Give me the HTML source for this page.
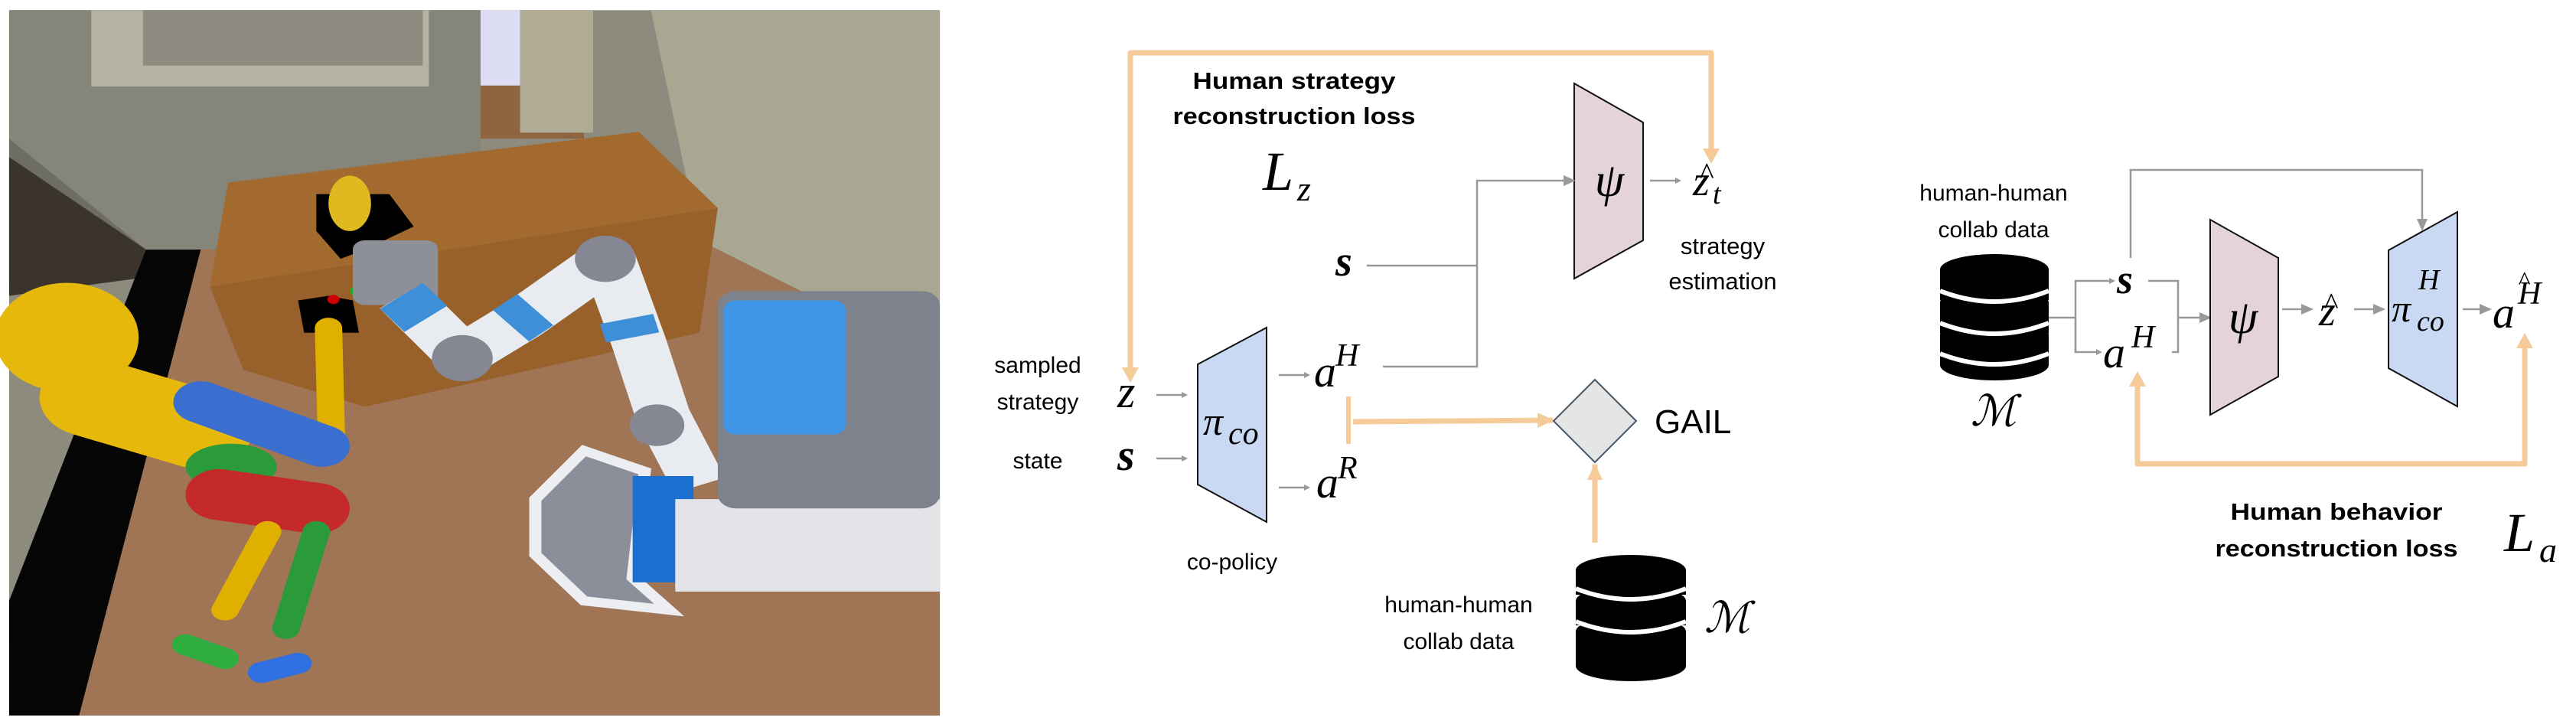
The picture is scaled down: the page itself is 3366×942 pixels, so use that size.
<!DOCTYPE html>
<html><head><meta charset="utf-8"><style>
html,body{margin:0;padding:0;background:#fff;}
svg{display:block;}
.t{font-family:"Liberation Sans",sans-serif;fill:#000;}
.b{font-family:"Liberation Sans",sans-serif;font-weight:bold;fill:#000;}
.m{font-family:"Liberation Serif",serif;font-style:italic;fill:#000;}
</style></head><body>
<svg width="3366" height="942" viewBox="0 0 3366 942" xmlns="http://www.w3.org/2000/svg">
<defs>
<marker id="ga" markerWidth="8" markerHeight="8" refX="6" refY="4" orient="auto" markerUnits="userSpaceOnUse" viewBox="0 0 8 8"><path d="M0,0 L8,4 L0,8 z" fill="#999"/></marker>
<marker id="gA" markerWidth="16" markerHeight="14" refX="14" refY="7" orient="auto" markerUnits="userSpaceOnUse"><path d="M0,0 L16,7 L0,14 z" fill="#999"/></marker>
<marker id="oa" markerWidth="22" markerHeight="20" refX="20" refY="10" orient="auto" markerUnits="userSpaceOnUse"><path d="M0,0 L22,10 L0,20 z" fill="#f5cb9a"/></marker>
</defs>
<!-- PHOTO -->
<svg x="0" y="0" width="1240" height="942" viewBox="0 0 1560 1560" preserveAspectRatio="none">
<rect x="15" y="22" width="1530" height="1526" fill="#8c8b7e"/>
<polygon points="15,22 790,22 790,520 330,540 240,540 15,300" fill="#85857a"/>
<polygon points="15,300 240,540 15,600" fill="#6e6d64"/>
<polygon points="15,340 240,540 240,600 15,640" fill="#3a342c"/>
<rect x="150" y="22" width="555" height="165" fill="#b4b2a2"/>
<rect x="235" y="22" width="460" height="120" fill="#8e8c80"/>
<rect x="790" y="22" width="65" height="165" fill="#dcdcf2"/>
<polygon points="790,185 960,185 960,300 790,300" fill="#8f6440"/>
<rect x="855" y="22" width="120" height="265" fill="#b0ab95"/>
<polygon points="1070,22 1545,22 1545,780 1150,520" fill="#a9a792"/>
<polygon points="330,540 1150,520 1545,780 1545,1548 130,1548" fill="#a07555"/>
<polygon points="240,540 330,540 130,1548 15,1548 15,1300" fill="#050505"/>
<polygon points="375,395 1050,285 1180,450 345,620" fill="#a26a2e"/>
<polygon points="345,620 1180,450 1150,720 600,880 400,800" fill="#98602a"/>
<polygon points="520,420 640,420 680,490 600,540 560,560 520,500" fill="#000"/>
<ellipse cx="575" cy="440" rx="35" ry="60" fill="#e0b820"/>
<polygon points="490,650 540,640 580,650 590,720 500,720" fill="#000"/>
<circle cx="548" cy="648" r="10" fill="#c00"/><circle cx="585" cy="630" r="10" fill="#2a2"/>
<line x1="540" y1="710" x2="545" y2="960" stroke="#e0b000" stroke-width="45" stroke-linecap="round"/>
<circle cx="110" cy="730" r="118" fill="#e6b80c"/>
<line x1="150" y1="860" x2="330" y2="930" stroke="#e6b80c" stroke-width="170" stroke-linecap="round"/>
<line x1="330" y1="870" x2="530" y2="965" stroke="#3a6fcf" stroke-width="90" stroke-linecap="round"/>
<ellipse cx="380" cy="1010" rx="75" ry="50" fill="#2a9a3a"/>
<line x1="360" y1="1070" x2="520" y2="1100" stroke="#c52a2a" stroke-width="110" stroke-linecap="round"/>
<line x1="440" y1="1150" x2="370" y2="1320" stroke="#e0b000" stroke-width="45" stroke-linecap="round"/>
<line x1="520" y1="1150" x2="470" y2="1360" stroke="#2a9a3a" stroke-width="45" stroke-linecap="round"/>
<line x1="305" y1="1395" x2="370" y2="1425" stroke="#2fae3f" stroke-width="45" stroke-linecap="round"/>
<line x1="430" y1="1455" x2="490" y2="1435" stroke="#2f6fe0" stroke-width="45" stroke-linecap="round"/>
<rect x="580" y="520" width="140" height="140" rx="20" fill="#8e9098"/>
<polyline points="660,640 760,770 860,690 1000,560 1050,740 1090,900 1150,1050" fill="none" stroke="#e8ecf0" stroke-width="90" stroke-linejoin="round"/>
<line x1="660" y1="640" x2="700" y2="690" stroke="#3f8fd8" stroke-width="90"/>
<line x1="840" y1="705" x2="880" y2="670" stroke="#3f8fd8" stroke-width="90"/>
<line x1="1030" y1="690" x2="1040" y2="730" stroke="#3f8fd8" stroke-width="90"/>
<circle cx="760" cy="775" r="50" fill="#858892"/>
<circle cx="995" cy="560" r="50" fill="#858892"/>
<circle cx="1080" cy="920" r="45" fill="#858892"/>
<polygon points="880,1080 960,975 1060,1020 1040,1250 1100,1320 960,1300 880,1200" fill="#8b8f99" stroke="#eceef2" stroke-width="20"/>
<rect x="1040" y="1030" width="100" height="230" fill="#1a6fd0"/>
<rect x="1110" y="1080" width="435" height="200" fill="#e2e4e8"/>
<rect x="1180" y="630" width="365" height="470" rx="30" fill="#7d828c"/>
<rect x="1190" y="650" width="200" height="290" rx="20" fill="#3f95e6"/>
</svg>

<!-- MIDDLE DIAGRAM -->
<polyline points="1477,485 1477,69 2236,69 2236,199" fill="none" stroke="#f5cb9a" stroke-width="7" stroke-linejoin="round"/>
<path d="M1466,480 L1488,480 L1477,500 z" fill="#f5cb9a"/>
<path d="M2225,194 L2247,194 L2236,214 z" fill="#f5cb9a"/>
<text class="b" x="1691" y="116" font-size="31" text-anchor="middle" textLength="265" lengthAdjust="spacingAndGlyphs">Human strategy</text>
<text class="b" x="1691" y="162" font-size="31" text-anchor="middle" textLength="317" lengthAdjust="spacingAndGlyphs">reconstruction loss</text>
<text class="m" x="1650" y="248" font-size="72">L</text><text class="m" x="1695" y="262" font-size="46">z</text>

<polygon points="2057,109 2147,160 2147,314 2057,364" fill="#e5d3dc" stroke="#111" stroke-width="2"/>
<text class="m" x="2103" y="256" font-size="62" text-anchor="middle">ψ</text>
<line x1="2156" y1="236" x2="2195" y2="236" stroke="#999" stroke-width="2.5" marker-end="url(#ga)"/>
<text class="m" x="2212" y="255" font-size="56">z</text><text class="m" x="2220" y="240" font-size="40" font-style="normal">^</text><text class="m" x="2238" y="266" font-size="38">t</text>
<text class="t" x="2251" y="332" font-size="31" text-anchor="middle">strategy</text>
<text class="t" x="2251" y="378" font-size="31" text-anchor="middle">estimation</text>

<text class="m" x="1745" y="360" font-size="56" font-weight="bold">s</text>
<polyline points="1786,347 1930,347" fill="none" stroke="#999" stroke-width="2.5"/>
<polyline points="1807,479 1930,479 1930,236 2057,236" fill="none" stroke="#999" stroke-width="2.5" marker-end="url(#gA)"/>

<text class="t" x="1356" y="487" font-size="30" text-anchor="middle">sampled</text>
<text class="t" x="1356" y="535" font-size="30" text-anchor="middle">strategy</text>
<text class="t" x="1356" y="612" font-size="30" text-anchor="middle">state</text>
<text class="m" x="1460" y="532" font-size="60">z</text>
<text class="m" x="1460" y="614" font-size="58" font-weight="bold">s</text>
<line x1="1511" y1="516" x2="1550" y2="516" stroke="#999" stroke-width="2.5" marker-end="url(#ga)"/>
<line x1="1511" y1="599" x2="1550" y2="599" stroke="#999" stroke-width="2.5" marker-end="url(#ga)"/>
<polygon points="1565,476 1655,428 1655,682 1565,633" fill="#cad9f3" stroke="#111" stroke-width="2"/>
<text class="m" x="1572" y="568" font-size="52" font-style="normal">π</text><text class="m" x="1605" y="580" font-size="42">co</text>
<text class="t" x="1610" y="744" font-size="30" text-anchor="middle">co-policy</text>
<line x1="1671" y1="490" x2="1710" y2="490" stroke="#999" stroke-width="2.5" marker-end="url(#ga)"/>
<line x1="1671" y1="637" x2="1710" y2="637" stroke="#999" stroke-width="2.5" marker-end="url(#ga)"/>
<text class="m" x="1717" y="505" font-size="58">a</text><text class="m" x="1745" y="478" font-size="42">H</text>
<text class="m" x="1720" y="650" font-size="58">a</text><text class="m" x="1748" y="625" font-size="42">R</text>
<line x1="1762" y1="518" x2="1762" y2="580" stroke="#f5cb9a" stroke-width="6"/>
<line x1="1768" y1="551" x2="2029" y2="549" stroke="#f5cb9a" stroke-width="7" marker-end="url(#oa)"/>
<polygon points="2084,496 2138,550 2084,604 2030,550" fill="#e5e5e5" stroke="#445566" stroke-width="2"/>
<text class="t" x="2162" y="566" font-size="44">GAIL</text>
<line x1="2084" y1="709" x2="2084" y2="607" stroke="#f5cb9a" stroke-width="7" marker-end="url(#oa)"/>
<g fill="#000">
<ellipse cx="2131" cy="745" rx="72" ry="20"/>
<rect x="2059" y="745" width="144" height="32"/>
<ellipse cx="2131" cy="785" rx="72" ry="20"/>
<rect x="2059" y="785" width="144" height="32"/>
<ellipse cx="2131" cy="825" rx="72" ry="20"/>
<rect x="2059" y="825" width="144" height="45"/>
<ellipse cx="2131" cy="870" rx="72" ry="20"/>
</g>
<path d="M2059,769 Q2131,797 2203,769 M2059,812 Q2131,840 2203,812" stroke="#fff" stroke-width="6" fill="none"/>
<text class="m" x="2227" y="826" font-size="56">ℳ</text>
<text class="t" x="1906" y="800" font-size="30" text-anchor="middle">human-human</text>
<text class="t" x="1906" y="848" font-size="30" text-anchor="middle">collab data</text>

<!-- RIGHT DIAGRAM -->
<text class="t" x="2605" y="262" font-size="30" text-anchor="middle">human-human</text>
<text class="t" x="2605" y="310" font-size="30" text-anchor="middle">collab data</text>
<g fill="#000">
<ellipse cx="2606" cy="352" rx="71" ry="20"/>
<rect x="2535" y="352" width="142" height="40"/>
<ellipse cx="2606" cy="395" rx="71" ry="20"/>
<rect x="2535" y="395" width="142" height="40"/>
<ellipse cx="2606" cy="437" rx="71" ry="20"/>
<rect x="2535" y="437" width="142" height="40"/>
<ellipse cx="2606" cy="477" rx="71" ry="20"/>
</g>
<path d="M2535,380 Q2606,408 2677,380 M2535,422 Q2606,450 2677,422 M2535,462 Q2606,490 2677,462" stroke="#fff" stroke-width="6" fill="none"/>
<text class="m" x="2605" y="556" font-size="56" text-anchor="middle">ℳ</text>
<polyline points="2677,415 2712,415" fill="none" stroke="#999" stroke-width="2.5"/>
<polyline points="2712,460 2712,367 2762,367" fill="none" stroke="#999" stroke-width="2.5" marker-end="url(#ga)"/>
<polyline points="2712,415 2712,460 2745,460" fill="none" stroke="#999" stroke-width="2.5" marker-end="url(#ga)"/>
<text class="m" x="2766" y="383" font-size="54" font-weight="bold">s</text>
<text class="m" x="2748" y="480" font-size="58">a</text><text class="m" x="2785" y="454" font-size="42">H</text>
<polyline points="2807,367 2846,367 2846,460 2838,460" fill="none" stroke="#999" stroke-width="2.5"/>
<line x1="2846" y1="415" x2="2888" y2="415" stroke="#999" stroke-width="2.5" marker-end="url(#gA)"/>
<polyline points="2784,337 2784,222 3165,222 3165,300" fill="none" stroke="#999" stroke-width="2.5" marker-end="url(#gA)"/>
<polygon points="2888,287 2977,337 2977,492 2888,542" fill="#e5d3dc" stroke="#111" stroke-width="2"/>
<text class="m" x="2931" y="435" font-size="62" text-anchor="middle">ψ</text>
<line x1="2982" y1="404" x2="3021" y2="404" stroke="#999" stroke-width="2.5" marker-end="url(#gA)"/>
<text class="m" x="3030" y="425" font-size="56">z</text><text class="m" x="3036" y="410" font-size="40" font-style="normal">^</text>
<line x1="3076" y1="404" x2="3115" y2="404" stroke="#999" stroke-width="2.5" marker-end="url(#gA)"/>
<polygon points="3121,327 3211,277 3211,531 3121,481" fill="#cad9f3" stroke="#111" stroke-width="2"/>
<text class="m" x="3125" y="420" font-size="50" font-style="normal">π</text><text class="m" x="3160" y="378" font-size="38">H</text><text class="m" x="3158" y="432" font-size="38">co</text>
<line x1="3218" y1="404" x2="3254" y2="404" stroke="#999" stroke-width="2.5" marker-end="url(#gA)"/>
<text class="m" x="3257" y="428" font-size="58">a</text><text class="m" x="3290" y="397" font-size="42">H</text><text class="m" x="3290" y="378" font-size="34" font-style="normal">^</text>
<polyline points="2793,500 2793,606 3299,606 3299,450" fill="none" stroke="#f5cb9a" stroke-width="7" stroke-linejoin="round"/>
<path d="M2782,505 L2804,505 L2793,485 z" fill="#f5cb9a"/>
<path d="M3288,455 L3310,455 L3299,435 z" fill="#f5cb9a"/>
<text class="b" x="3053" y="679" font-size="31" text-anchor="middle" textLength="277" lengthAdjust="spacingAndGlyphs">Human behavior</text>
<text class="b" x="3053" y="727" font-size="31" text-anchor="middle" textLength="317" lengthAdjust="spacingAndGlyphs">reconstruction loss</text>
<text class="m" x="3272" y="720" font-size="72">L</text><text class="m" x="3318" y="734" font-size="46">a</text>
</svg>
</body></html>
